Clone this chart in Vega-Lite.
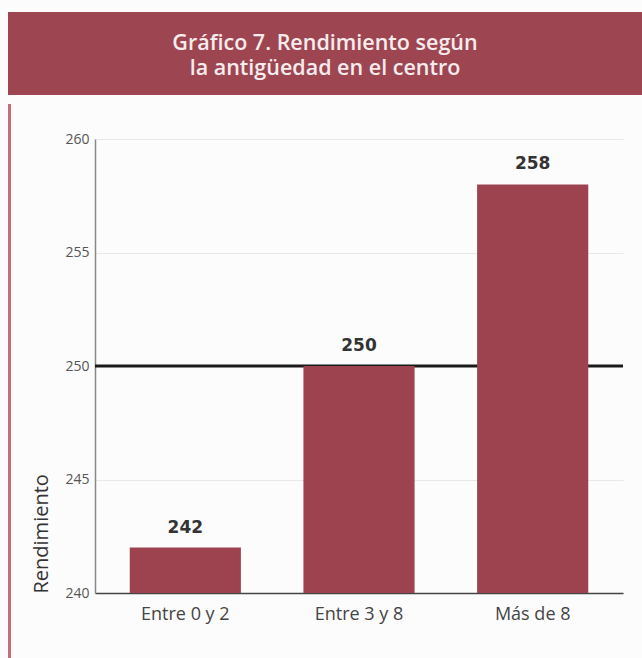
{
  "$schema": "https://vega.github.io/schema/vega-lite/v6.json",
  "background": "#fdfcfc",
  "padding": {"left": 8, "top": 12, "right": 0, "bottom": 0},
  "spacing": 9,
  "vconcat": [
    {
      "width": 634,
      "height": 83,
      "view": {"fill": "#9d4652", "stroke": null},
      "data": {"values": [{"titulo": "Gráfico 7. Rendimiento según\nla antigüedad en el centro"}]},
      "mark": {"type": "text", "lineBreak": "\n", "font": "Open Sans", "fontSize": 21.5, "fontWeight": 600, "color": "#f6eced", "align": "center", "baseline": "middle", "lineHeight": 25, "dy": -10},
      "encoding": {"text": {"field": "titulo", "type": "nominal"}}
    },
    {
      "spacing": 20,
      "center": true,
      "hconcat": [
        {
          "width": 3,
          "height": 554,
          "view": {"fill": "#c36d78", "stroke": null},
          "data": {"values": []},
          "mark": {"type": "point"}
        },
        {
          "width": 528,
          "height": 454,
          "data": {"values": [
            {"grupo": "Entre 0 y 2", "valor": 242},
            {"grupo": "Entre 3 y 8", "valor": 250},
            {"grupo": "Más de 8", "valor": 258}
          ]},
          "layer": [
            {
              "data": {"values": [{"ref": 250}]},
              "mark": {"type": "rule", "color": "#1a1a1a", "strokeWidth": 3},
              "encoding": {"y": {"field": "ref", "type": "quantitative", "title": "Rendimiento"}}
            },
            {
              "mark": {"type": "bar", "color": "#9d4350"},
              "encoding": {
                "x": {"field": "grupo", "type": "nominal", "sort": null, "scale": {"paddingInner": 0.36, "paddingOuter": 0.2},
                  "axis": {"title": null, "labelAngle": 0, "ticks": false, "labelPadding": 12, "labelFontSize": 18, "labelColor": "#444", "domainColor": "#444", "domainWidth": 1.5}},
                "y": {"field": "valor", "type": "quantitative", "title": "Rendimiento",
                  "scale": {"domain": [240, 260], "zero": false, "nice": false},
                  "axis": {"values": [240, 245, 250, 255, 260], "ticks": false, "labelPadding": 6, "labelFontSize": 14, "labelColor": "#555", "domainColor": "#888", "domainWidth": 1.5, "gridColor": "#e8e8e8", "titleFontSize": 20, "titleFontWeight": "normal", "titleColor": "#333", "titleAnchor": "start", "titlePadding": 13}},
                "y2": {"datum": 240}
              }
            },
            {
              "mark": {"type": "text", "baseline": "alphabetic", "dy": -15, "font": "DejaVu Sans", "fontSize": 17, "fontWeight": "bold", "color": "#333"},
              "encoding": {
                "x": {"field": "grupo", "type": "nominal", "sort": null},
                "y": {"field": "valor", "type": "quantitative"},
                "text": {"field": "valor", "type": "quantitative"}
              }
            }
          ]
        }
      ]
    }
  ],
  "config": {
    "view": {"stroke": null},
    "axis": {"labelFont": "Open Sans", "titleFont": "Open Sans"}
  }
}
